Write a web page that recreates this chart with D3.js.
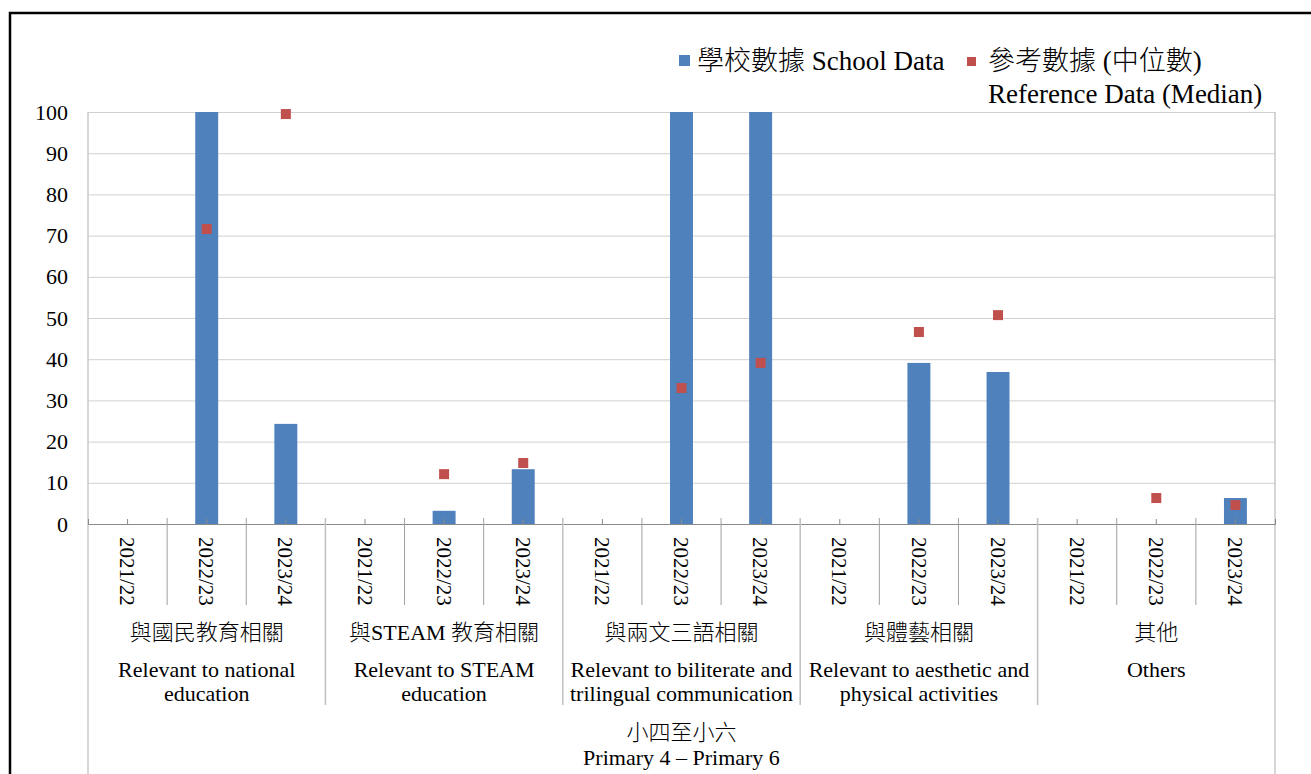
<!DOCTYPE html>
<html>
<head>
<meta charset="utf-8">
<script src="https://cdn.jsdelivr.net/npm/d3@7"></script>
<style>
  body { margin: 0; background: #fff; }
  svg text { font-family: "Liberation Serif", "Times New Roman", "Noto Sans CJK TC", serif; fill: #000; }
  svg text.zh { font-weight: 300; }
</style>
</head>
<body>
<script>
// data
var years = ["2021/22", "2022/23", "2023/24"];
var groupsZh = ["與國民教育相關", "與STEAM 教育相關", "與兩文三語相關", "與體藝相關", "其他"];
var groupsEn = [
  ["Relevant to national", "education"],
  ["Relevant to STEAM", "education"],
  ["Relevant to biliterate and", "trilingual communication"],
  ["Relevant to aesthetic and", "physical activities"],
  ["Others"]
];
var schoolData = [null, 100, 24.3, null, 3.2, 13.3, null, 100, 100, null, 39.1, 36.9, null, null, 6.3];
var referenceData = [null, 71.6, 99.5, null, 12.1, 14.8, null, 33.0, 39.1, null, 46.6, 50.7, null, 6.3, 4.6];
var yTicks = [0, 10, 20, 30, 40, 50, 60, 70, 80, 90, 100];
var seriesNames = ["學校數據 School Data", "參考數據 (中位數)", "Reference Data (Median)"];
var levelZh = "小四至小六";
var levelEn = "Primary 4 – Primary 6";

var width = 1311, height = 774;
var plotL = 88, plotR = 1275, plotT = 112, plotB = 524;
var barColor = "#4f81bd", refColor = "#c0504d";
var serif = "'Liberation Serif', 'Times New Roman', 'Noto Sans CJK TC', serif";

var svg = d3.select("body").append("svg")
  .attr("width", width).attr("height", height);

var cats = d3.range(groupsZh.length * years.length);
var x = d3.scaleBand().domain(cats).range([plotL, plotR]);
var y = d3.scaleLinear().domain([0, 100]).range([plotB, plotT]);
var barW = x.bandwidth() * 0.29;

// keep the category index with each value, skip the empty ones
function withIndex(arr){
  return arr.map(function(v, i){ return {i: i, v: v}; })
            .filter(function(d){ return d.v != null; });
}

// gridlines
svg.append("g")
  .attr("transform", "translate(" + plotL + ",0)")
  .call(d3.axisLeft(y).tickValues(yTicks).tickSize(-(plotR - plotL)).tickFormat(""))
  .call(function(g){
    g.select(".domain").remove();
    g.selectAll("line").attr("stroke", "#d0d0d0");
  });

// y labels
svg.append("g")
  .attr("transform", "translate(" + plotL + ",0)")
  .call(d3.axisLeft(y).tickValues(yTicks).tickSize(0).tickPadding(20))
  .call(function(g){
    g.attr("font-family", null).attr("font-size", null);
    g.select(".domain").remove();
    g.selectAll("text").attr("font-size", "22px")
      .attr("font-family", serif).attr("fill", "#000");
  });

// plot side lines
svg.append("line").attr("x1", plotL).attr("x2", plotL).attr("y1", plotT).attr("y2", height)
  .attr("stroke", "#c8c8c8").attr("stroke-width", 1.5);
svg.append("line").attr("x1", plotR).attr("x2", plotR).attr("y1", plotT).attr("y2", height)
  .attr("stroke", "#c8c8c8").attr("stroke-width", 1.5);

// bars
svg.selectAll("rect.bar")
  .data(withIndex(schoolData))
  .enter()
  .append("rect")
  .attr("class", "bar")
  .attr("fill", barColor)
  .attr("x", function(d){ return x(d.i) + x.bandwidth()/2 - barW/2; })
  .attr("y", function(d){ return y(d.v); })
  .attr("width", barW)
  .attr("height", function(d){ return plotB - y(d.v); });

// x axis
svg.append("g")
  .attr("transform", "translate(0," + plotB + ")")
  .call(d3.axisBottom(x).tickSize(-5).tickFormat(""))
  .call(function(g){
    g.select(".domain").attr("stroke", "#8a8a8a");
    g.selectAll("line").attr("stroke", "#8a8a8a");
  });

// category separators
for (var i = 1; i < cats.length; i++) {
  var isGroup = i % years.length === 0;
  svg.append("line")
    .attr("x1", x(i)).attr("x2", x(i))
    .attr("y1", plotB - 6).attr("y2", isGroup ? 705 : 605)
    .attr("stroke", isGroup ? "#c0c0c0" : "#a0a0a0")
    .attr("stroke-width", isGroup ? 1.5 : 1);
}

// reference markers
svg.selectAll("rect.ref")
  .data(withIndex(referenceData))
  .enter()
  .append("rect")
  .attr("class", "ref")
  .attr("fill", refColor)
  .attr("x", function(d){ return x(d.i) + x.bandwidth()/2 - 5; })
  .attr("y", function(d){ return y(d.v) - 5; })
  .attr("width", 10)
  .attr("height", 10);

// year labels (rotated)
svg.selectAll("text.year")
  .data(cats)
  .enter()
  .append("text")
  .attr("class", "year")
  .attr("font-family", serif)
  .attr("font-size", "21px")
  .attr("transform", function(d){ return "translate(" + (x(d) + x.bandwidth()/2) + ",537) rotate(90)"; })
  .attr("dy", "0.35em")
  .text(function(d){ return years[d % years.length]; });

// group labels
var groupW = x.bandwidth() * years.length;
groupsZh.forEach(function(g, gi){
  var cx = plotL + groupW * (gi + 0.5);
  svg.append("text").attr("class", "zh").attr("font-family", serif)
    .attr("x", cx).attr("y", 640)
    .attr("text-anchor", "middle").attr("font-size", "22px")
    .text(g);
  groupsEn[gi].forEach(function(line, li){
    svg.append("text").attr("font-family", serif)
      .attr("x", cx).attr("y", 677 + li * 24)
      .attr("text-anchor", "middle").attr("font-size", "22px")
      .text(line);
  });
});

// level label
var mid = (plotL + plotR) / 2;
svg.append("text").attr("class", "zh").attr("font-family", serif)
  .attr("x", mid).attr("y", 740).attr("text-anchor", "middle").attr("font-size", "22px")
  .text(levelZh);
svg.append("text").attr("font-family", serif)
  .attr("x", mid).attr("y", 765).attr("text-anchor", "middle").attr("font-size", "22px")
  .text(levelEn);

// legend
svg.append("rect").attr("x", 679).attr("y", 55).attr("width", 11).attr("height", 11).attr("fill", barColor);
svg.append("text").attr("class", "zh").attr("font-family", serif).attr("x", 697).attr("y", 70).attr("font-size", "27px").text(seriesNames[0]);
svg.append("rect").attr("x", 967).attr("y", 57).attr("width", 9).attr("height", 9).attr("fill", refColor);
svg.append("text").attr("class", "zh").attr("font-family", serif).attr("x", 988).attr("y", 70).attr("font-size", "27px").text(seriesNames[1]);
svg.append("text").attr("font-family", serif).attr("x", 988).attr("y", 103).attr("font-size", "27px").text(seriesNames[2]);

// outer frame
svg.append("rect").attr("x", 10).attr("y", 13).attr("width", 1320).attr("height", 800)
  .attr("fill", "none").attr("stroke", "#000").attr("stroke-width", 2.5);
</script>
</body>
</html>
